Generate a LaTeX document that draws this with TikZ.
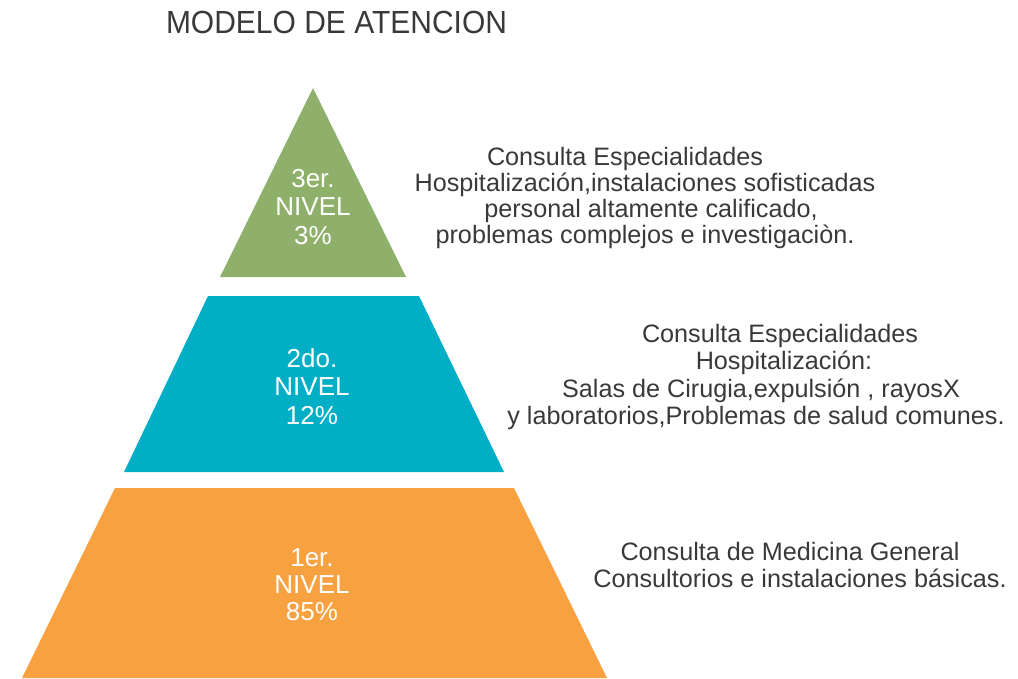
\documentclass[tikz,border=0pt]{standalone}
\usepackage{fontspec}
\setmainfont{Liberation Sans}
\definecolor{lvlgreen}{RGB}{143,176,106}
\definecolor{lvlteal}{RGB}{0,175,197}
\definecolor{lvlorange}{RGB}{248,161,64}
\definecolor{txtgray}{RGB}{59,56,56}
\begin{document}
\begin{tikzpicture}[x=1pt,y=-1pt,
  levellabel/.style={text=white,align=center,inner sep=0pt,font=\fontsize{26}{28.5}\selectfont},
  desc/.style={text=txtgray,align=center,inner sep=0pt,font=\fontsize{25.2}{27.5}\selectfont}]
\useasboundingbox (0,0) rectangle (1018,678);
% title
\node[anchor=base,text=txtgray,inner sep=0pt,font=\fontsize{32}{36}\selectfont] (title) at (336.5,33) {\scalebox{0.937}[1]{MODELO DE ATENCION}};
% pyramid
\fill[lvlgreen] (313,88) -- (406,277) -- (220,277) -- cycle;
\fill[lvlteal] (208,296) -- (419,296) -- (504,472) -- (124,472) -- cycle;
\fill[lvlorange] (115,488) -- (514,488) -- (607,678) -- (22,678) -- cycle;
% labels
\node[levellabel] (n3) at (313,207) {3er.\\NIVEL\\3\%};
\node[levellabel] (n2) at (312,386.5) {2do.\\NIVEL\\12\%};
\node[levellabel,font=\fontsize{26}{27}\selectfont] (n1) at (312,584.5) {1er.\\NIVEL\\85\%};
% descriptions
\node[desc,font=\fontsize{25.2}{26}\selectfont] (d3) at (645,198) {Consulta Especialidades\hspace*{40pt}\\Hospitalización,instalaciones sofisticadas\\\hspace*{12pt}personal altamente calificado,\\problemas complejos e investigaciòn.};
\node[desc] (d2) at (756,377) {\hspace*{48pt}Consulta Especialidades\\\hspace*{56pt}Hospitalización:\\\hspace*{10pt}Salas de Cirugia,expulsión , rayosX\\y laboratorios,Problemas de salud comunes.};
\node[desc] (d1) at (800,565) {Consulta de Medicina General\hspace*{20pt}\\Consultorios e instalaciones básicas.};
\end{tikzpicture}
\end{document}
